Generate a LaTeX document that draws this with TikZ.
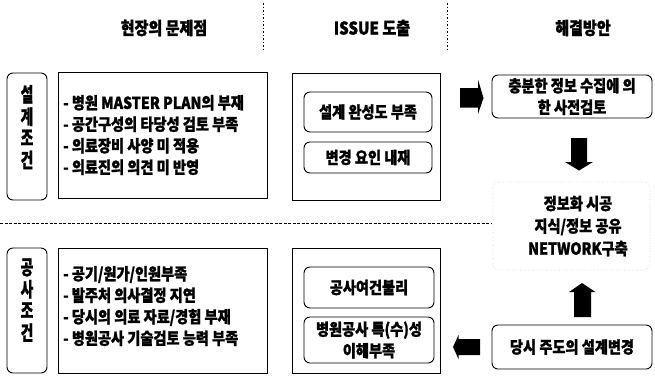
\documentclass[tikz,border=0pt]{standalone}
\usepackage{fontspec}
\usepackage{graphicx}
\setmainfont{Noto Sans CJK KR}[FakeStretch=0.86, BoldFeatures={FakeBold=1.3}]
\begin{document}
\begin{tikzpicture}[x=1pt,y=-1pt,
  box/.style={draw=black, line width=0.9pt, inner sep=0pt},
  rbox/.style={box, rounded corners=6pt},
  hdr/.style={font=\fontsize{17.5}{19}\selectfont\bfseries, inner sep=0pt},
  txt/.style={font=\fontsize{16.5}{21.5}\selectfont\bfseries, inner sep=0pt, align=left},
  ctxt/.style={font=\fontsize{16.5}{21.5}\selectfont\bfseries, inner sep=0pt, align=center},
  vtxt/.style={font=\fontsize{16}{14.5}\selectfont\bfseries, inner sep=0pt},
  sep/.style={line width=0.8pt, dash pattern=on 3pt off 1.5pt},
  vsep/.style={line width=0.8pt, dash pattern=on 1.5pt off 2pt},
  blk/.style={fill=black}
]
\useasboundingbox (0,0) rectangle (655,376);

% headers
\node[hdr] (h1) at (164,28) {현장의 문제점};
\node[hdr] (h2) at (372,28) {ISSUE 도출};
\node[hdr] (h3) at (583,28) {해결방안};
\coordinate (v1a) at (263,3); \coordinate (v1b) at (263,51);
\coordinate (v2a) at (447,3); \coordinate (v2b) at (447,51);
\draw[vsep] (v1a) -- (v1b);
\draw[vsep] (v2a) -- (v2b);

% row 1
\node[rbox, minimum width=40, minimum height=127] (l1) at (27,136.5) {};
\node[vtxt] (l1t) at (27,129) {\scalebox{1}[1.25]{\begin{tabular}{@{}c@{}}설\\계\\조\\건\end{tabular}}};
\node[box, minimum width=209, minimum height=126] (p1) at (162.5,135) {};
\node[txt, anchor=west] (p1t) at (63,135) {- 병원 MASTER PLAN의 부재\\- 공간구성의 타당성 검토 부족\\- 의료장비 사양 미 적용\\- 의료진의 의견 미 반영};
\node[box, minimum width=148, minimum height=127] (i1) at (366,136.5) {};
\node[rbox, minimum width=128, minimum height=40] (i1a) at (368,112) {};
\node[ctxt] at (i1a) {설계 완성도 부족};
\node[rbox, minimum width=128, minimum height=31] (i1b) at (368,157.5) {};
\node[ctxt] at (i1b) {변경 요인 내재};
\node[rbox, minimum width=160, minimum height=43] (r1) at (572,96.5) {};
\node[ctxt] at (r1) {충분한 정보 수집에 의\\한 사전검토};

% arrows
\fill[blk] (460,88) -- (478,88) -- (478,79.5) -- (483.5,98) -- (478,114) -- (478,107.5) -- (460,107.5) -- cycle;
\fill[blk] (571,138) -- (587,138) -- (587,162) -- (593,162) -- (579,170.5) -- (565,162) -- (571,162) -- cycle;
\fill[blk] (574,317) -- (591,317) -- (591,292) -- (595.5,292) -- (582,283) -- (569,292) -- (574,292) -- cycle;
\fill[blk] (480,339) -- (458.5,339) -- (458.5,335) -- (453,347) -- (458.5,359) -- (458.5,355) -- (480,355) -- cycle;

% middle solution
\draw[gray!40, dotted, line width=0.6pt, rounded corners=6pt] (493,182) rectangle (650,270);
\node[ctxt, font=\fontsize{16.5}{22.5}\selectfont\bfseries] (net) at (578,226) {정보화 시공\\지식/정보 공유\\NETWORK구축};

% separator
\coordinate (sa) at (0,223); \coordinate (sb) at (492,223);
\draw[sep] (sa) -- (sb);

% row 2
\node[rbox, minimum width=40, minimum height=125] (l2) at (27,310.5) {};
\node[vtxt] (l2t) at (27,302) {\scalebox{1}[1.25]{\begin{tabular}{@{}c@{}}공\\사\\조\\건\end{tabular}}};
\node[box, minimum width=209, minimum height=125] (p2) at (162.5,310.5) {};
\node[txt, anchor=west] (p2t) at (63,306) {- 공기/원가/인원부족\\- 발주처 의사결정 지연\\- 당시의 의료 자료/경험 부재\\- 병원공사 기술검토 능력 부족};
\node[box, minimum width=148, minimum height=125] (i2) at (366,310.5) {};
\node[rbox, minimum width=130, minimum height=41] (i2a) at (369,287.5) {};
\node[ctxt] at (i2a) {공사여건불리};
\node[rbox, minimum width=130, minimum height=46] (i2b) at (369,340) {};
\node[ctxt] at (i2b) {병원공사 특(수)성\\이해부족};
\node[rbox, minimum width=160, minimum height=44] (r2) at (572,347) {};
\node[ctxt] at (r2) {당시 주도의 설계변경};
\end{tikzpicture}
\end{document}
